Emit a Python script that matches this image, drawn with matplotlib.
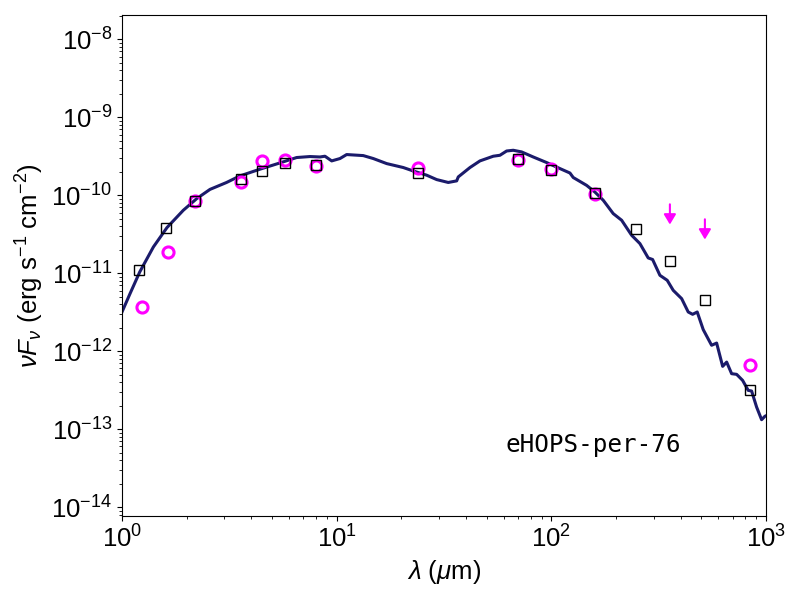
import numpy as np
import matplotlib
matplotlib.use('Agg')
import matplotlib.pyplot as plt

# Model SED
model_wav = [1.00, 1.09, 1.21, 1.40, 1.62, 1.93, 2.23, 2.57, 3.07, 3.54, 4.39, 5.44,
             6.51, 7.51, 8.36, 8.82, 9.48, 10.36, 11.13, 13.30, 14.81, 17.10, 20.43,
             22.74, 26.26, 29.23, 33.10, 36.23, 36.85, 41.78, 46.50, 53.63, 57.62,
             61.91, 66.45, 72.72, 82.35, 95.08, 109.7, 122.1, 126.5, 146.0, 159.6,
             174.5, 194.2, 212.6, 236.6, 258.6, 282.7, 296.3, 320.5, 346.6, 369.7,
             404.6, 434.2, 455.2, 478.2, 510.0, 557.9, 588.9, 628.2, 655.7, 691.6,
             729.8, 778.0, 826.3, 857.0, 904.0, 953.9, 988.3, 1010.0]
model_flux = [3.18e-12, 5.47e-12, 1.04e-11, 2.17e-11, 3.85e-11, 6.42e-11, 9.07e-11,
              1.19e-10, 1.46e-10, 1.77e-10, 2.16e-10, 2.60e-10, 3.05e-10, 3.14e-10,
              3.10e-10, 3.17e-10, 2.76e-10, 2.96e-10, 3.33e-10, 3.23e-10, 2.96e-10,
              2.55e-10, 2.27e-10, 2.05e-10, 1.81e-10, 1.59e-10, 1.46e-10, 1.53e-10,
              1.72e-10, 2.27e-10, 2.76e-10, 3.17e-10, 3.26e-10, 3.70e-10, 3.78e-10,
              3.60e-10, 3.10e-10, 2.63e-10, 2.20e-10, 1.93e-10, 1.69e-10, 1.34e-10,
              1.10e-10, 8.63e-11, 5.82e-11, 4.78e-11, 3.07e-11, 2.40e-11, 1.57e-11,
              1.50e-11, 9.40e-12, 8.11e-12, 6.03e-12, 4.72e-12, 3.18e-12, 2.97e-12,
              3.18e-12, 1.89e-12, 1.19e-12, 1.27e-12, 6.38e-13, 7.24e-13, 5.14e-13,
              5.04e-13, 4.22e-13, 3.14e-13, 3.08e-13, 1.92e-13, 1.32e-13, 1.46e-13,
              1.50e-13]

# Model fluxes in the observed bands
band_wav = [1.20, 1.60, 2.19, 3.60, 4.50, 5.76, 7.98, 24.0, 70.1, 100.0, 160.2,
            248.6, 357.9, 521.0, 841.0]
band_flux = [1.11e-11, 3.85e-11, 8.37e-11, 1.62e-10, 2.07e-10, 2.58e-10, 2.43e-10,
             1.93e-10, 2.96e-10, 2.09e-10, 1.08e-10, 3.74e-11, 1.42e-11, 4.49e-12,
             3.14e-13]

# Observed photometry
obs_wav = [1.24, 1.64, 2.19, 3.60, 4.50, 5.76, 7.98, 24.0, 70.1, 100.0, 160.2, 841.0]
obs_flux = [3.65e-12, 1.89e-11, 8.37e-11, 1.48e-10, 2.73e-10, 2.81e-10, 2.40e-10,
            2.24e-10, 2.81e-10, 2.18e-10, 1.05e-10, 6.71e-13]

# Upper limits
lim_wav = [356.7, 519.2]
lim_flux = [7.66e-11, 4.92e-11]

plt.rcParams['font.family'] = ['Liberation Sans', 'DejaVu Sans']
plt.rcParams['mathtext.fontset'] = 'custom'
plt.rcParams['mathtext.rm'] = 'Liberation Sans'
plt.rcParams['mathtext.it'] = 'Liberation Sans:italic'
plt.rcParams['mathtext.bf'] = 'Liberation Sans:bold'

fig, ax = plt.subplots(figsize=(8, 6), dpi=100)
fig.subplots_adjust(left=0.1525, right=0.9575, top=0.975, bottom=0.14)

ax.plot(model_wav, model_flux, color='#1b1b6b', lw=2.2, zorder=1)
ax.plot(obs_wav, obs_flux, 'o', mfc='none', mec='magenta', ms=8, mew=2.2, zorder=2)
ax.plot(band_wav, band_flux, 's', mfc='none', mec='black', ms=6.5, mew=1.0, zorder=3)

# upper limits drawn as downward arrows
for lw_, lf in zip(lim_wav, lim_flux):
    ax.annotate('', xy=(lw_, lf * 0.55), xytext=(lw_, lf),
                arrowprops=dict(arrowstyle='-|>,head_length=0.3,head_width=0.18',
                                color='magenta', lw=1.5, mutation_scale=20,
                                shrinkA=0, shrinkB=0))

ax.set_xscale('log')
ax.set_yscale('log')
ax.set_xlim(1, 1000)
ax.set_ylim(10 ** -14.115, 10 ** -7.687)

ax.set_xlabel(r'$\lambda$ ($\mu$m)', fontsize=18.5)
ax.set_ylabel(r'$\nu F_\nu$ (erg s$^{-1}$ cm$^{-2}$)', fontsize=18.5)
ax.tick_params(axis='both', which='major', labelsize=18.5)

ax.text(0.595, 0.128, 'eHOPS-per-76', transform=ax.transAxes, family='DejaVu Sans Mono',
        fontsize=17.5, ha='left', va='baseline')

plt.savefig('out.png', dpi=100)
